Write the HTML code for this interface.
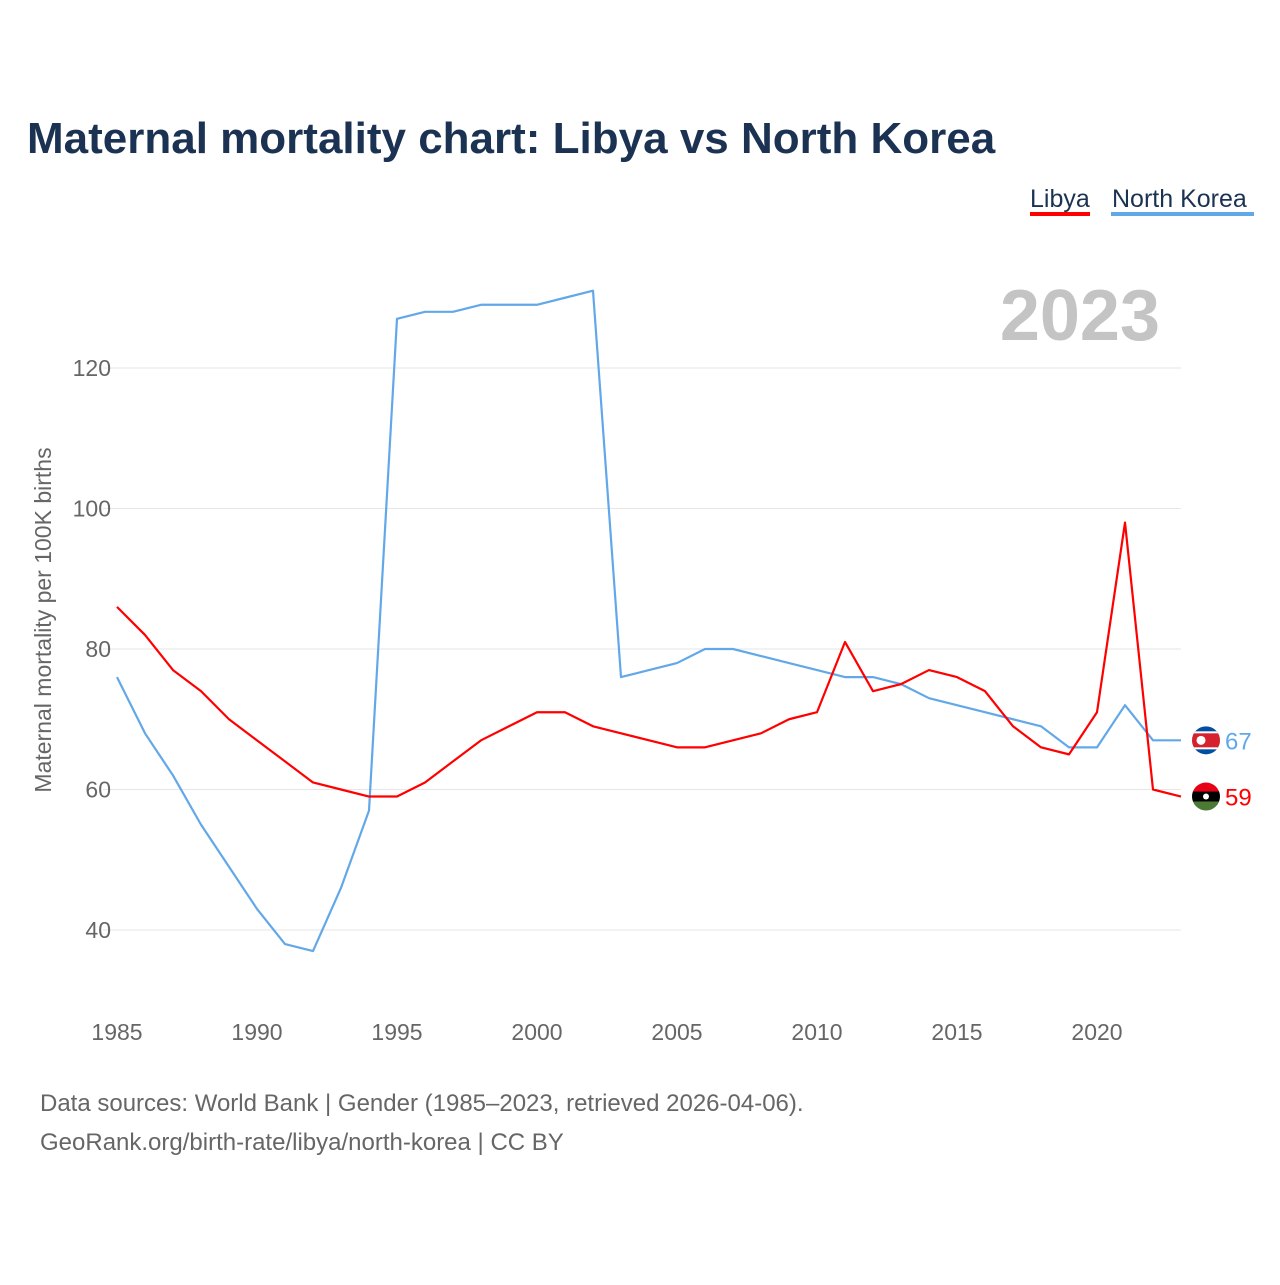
<!DOCTYPE html>
<html><head><meta charset="utf-8"><style>
body{margin:0;background:#fff;font-family:"Liberation Sans",sans-serif;}
</style></head><body>
<svg width="1280" height="1280" xmlns="http://www.w3.org/2000/svg" font-family="Liberation Sans, sans-serif">
<text x="27" y="153" font-size="44" font-weight="bold" fill="#1b3252">Maternal mortality chart: Libya vs North Korea</text>
<g>
<text x="1030" y="207" font-size="25" fill="#1b3252">Libya</text>
<rect x="1030" y="212" width="60" height="4" fill="#ff0000"/>
<text x="1112" y="207" font-size="25" fill="#1b3252">North Korea</text>
<rect x="1111" y="212" width="143" height="4" fill="#62a8e9"/>
</g>
<text x="1160" y="340" font-size="72" font-weight="bold" fill="#c4c4c4" text-anchor="end">2023</text>
<text transform="translate(51,620) rotate(-90)" font-size="23" fill="#666" text-anchor="middle">Maternal mortality per 100K births</text>
<defs id="defs"></defs>
<g id="grid"></g><g id="xt"></g><g id="lines"></g>
<text x="40" y="1111" font-size="24" fill="#666">Data sources: World Bank | Gender (1985–2023, retrieved 2026-04-06).</text>
<text x="40" y="1150" font-size="24" fill="#666">GeoRank.org/birth-rate/libya/north-korea | CC BY</text>
</svg>
<script>
const years=[];for(let y=1985;y<=2023;y++)years.push(y);
const libya=[86,82,77,74,70,67,64,61,60,59,59,61,64,67,69,71,71,69,68,67,66,66,67,68,70,71,81,74,75,77,76,74,69,66,65,71,98,60,59];
const northKorea=[76,68,62,55,49,43,38,37,46,57,127,128,128,129,129,129,130,131,76,77,78,80,80,79,78,77,76,76,75,73,72,71,70,69,66,66,72,67,67];
const yTicks=[40,60,80,100,120];
const xTicks=[1985,1990,1995,2000,2005,2010,2015,2020];
const NS="http://www.w3.org/2000/svg";
const xs=v=>117+(v-1985)*28;
const ys=v=>930-(v-40)*7.025;
function mk(t,a,p){const e=document.createElementNS(NS,t);for(const k in a)e.setAttribute(k,a[k]);p.appendChild(e);return e;}
const g=document.getElementById('grid');
yTicks.forEach(v=>{
 const l=mk('line',{x1:103,x2:1181,y1:ys(v),y2:ys(v),stroke:'#e6e6e6','stroke-width':1},g);
 
 
 const t=mk('text',{x:111,y:ys(v)+8,'font-size':23,fill:'#666','text-anchor':'end'},g);
 t.textContent=v;
 
 
});
const xt=document.getElementById('xt');
xTicks.forEach(v=>{
 const t=mk('text',{x:xs(v),y:1040,'font-size':23,fill:'#666','text-anchor':'middle'},xt);
 t.textContent=v;
 
 
});
const L=document.getElementById('lines');
const D=document.getElementById('defs');
function series(arr,col,name){
 const p=mk('polyline',{points:arr.map((v,i)=>xs(years[i])+','+ys(v)).join(' '),fill:'none',stroke:col,'stroke-width':2.2,'stroke-linejoin':'round'},L);
 
 
 const last=arr[arr.length-1],yy=ys(last);
 const cp=mk('clipPath',{id:'clip-'+name},D);
 mk('circle',{cx:1206,cy:yy,r:14},cp);
 const fg=mk('g',{'clip-path':'url(#clip-'+name+')'},L);
 
 
 if(name==='libya'){
  mk('rect',{x:1190,y:yy-15,width:32,height:10,fill:'#e70013'},fg);
  mk('rect',{x:1190,y:yy-5,width:32,height:10,fill:'#000'},fg);
  mk('rect',{x:1190,y:yy+5,width:32,height:10,fill:'#4a7a34'},fg);
  mk('circle',{cx:1206,cy:yy,r:3,fill:'#fff'},fg);
 } else {
  mk('rect',{x:1190,y:yy-15,width:32,height:30,fill:'#024fa2'},fg);
  mk('rect',{x:1190,y:yy-9,width:32,height:18,fill:'#fff'},fg);
  mk('rect',{x:1190,y:yy-7,width:32,height:14,fill:'#d5222c'},fg);
  mk('circle',{cx:1201,cy:yy,r:4.5,fill:'#fff'},fg);
 }
 const t=mk('text',{x:1225,y:yy+9,'font-size':24,fill:col},L);
 t.textContent=last;
 
 
}
series(northKorea,'#62a8e9','north-korea');
series(libya,'#ff0000','libya');
</script>
</body></html>
